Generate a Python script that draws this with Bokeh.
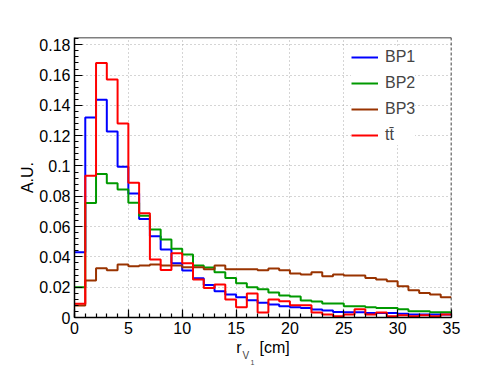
from bokeh.plotting import figure
from bokeh.models import FixedTicker, Legend, LegendItem, Span, Label
from bokeh.embed import file_html
from bokeh.resources import INLINE

# bin edges 0..35 cm, width 1
edges = list(range(0, 36))

bp1 = [0.043, 0.132, 0.1437, 0.1228, 0.0995, 0.0819, 0.065, 0.0536, 0.0448, 0.0358,
       0.031, 0.0259, 0.0215, 0.0174, 0.0152, 0.0134, 0.0114, 0.0097, 0.0086, 0.0075,
       0.0068, 0.0062, 0.0053, 0.0046, 0.0037, 0.0035, 0.0035, 0.0029, 0.0029, 0.0029,
       0.0024, 0.002, 0.002, 0.002, 0.002]
bp2 = [0.020, 0.0756, 0.0947, 0.0886, 0.0844, 0.0758, 0.0672, 0.058, 0.0514, 0.0453,
       0.0415, 0.0343, 0.033, 0.0299, 0.026, 0.0226, 0.020, 0.0187, 0.0165, 0.0145,
       0.0138, 0.0112, 0.0105, 0.0092, 0.0092, 0.0075, 0.0075, 0.0068, 0.0062, 0.0062,
       0.0055, 0.0042, 0.0042, 0.0035, 0.0035]
bp3 = [0.008, 0.0244, 0.0325, 0.0312, 0.035, 0.0338, 0.0343, 0.035, 0.0343, 0.0343,
       0.0332, 0.0332, 0.0318, 0.0343, 0.0318, 0.0318, 0.0318, 0.0312, 0.0323, 0.0312,
       0.029, 0.0284, 0.0299, 0.0272, 0.0284, 0.0277, 0.0277, 0.026, 0.0251, 0.024,
       0.0207, 0.018, 0.0161, 0.0152, 0.0134]
ttbar = [0.009, 0.0936, 0.168, 0.157, 0.128, 0.089, 0.0688, 0.0382, 0.0314, 0.0424,
         0.0358, 0.025, 0.0194, 0.0218, 0.0119, 0.0068, 0.0158, 0.0033, 0.0119, 0.0108,
         0.0081, 0.0081, 0.0033, 0.002, 0.0009, 0.002, 0.0055, 0.002, 0.0033, 0.0009,
         0.0015, 0.0009, 0.0015, 0.0009, 0.002]

series_names = ["BP1", "BP2", "BP3", "t\u0074\u0304"]
series_vals = [bp1, bp2, bp3, ttbar]
series_colors = ["#0000ff", "#009900", "#993300", "#ff0000"]

x_ticks = [0, 5, 10, 15, 20, 25, 30, 35]
y_ticks = [0, 0.02, 0.04, 0.06, 0.08, 0.1, 0.12, 0.14, 0.16, 0.18]
y_tick_labels = ["0", "0.02", "0.04", "0.06", "0.08", "0.1", "0.12", "0.14", "0.16", "0.18"]
y_max = 0.1848

FONT = "Liberation Sans"

p = figure(width=496, height=372, x_range=(0, 35), y_range=(0, y_max),
           output_backend="svg", toolbar_location=None,
           min_border_left=74, min_border_right=45, min_border_top=37, min_border_bottom=55)
p.outline_line_color = None
p.background_fill_color = "white"
p.border_fill_color = "white"

p.xaxis.ticker = FixedTicker(ticks=x_ticks, minor_ticks=list(range(0, 36)))
p.yaxis.ticker = FixedTicker(ticks=y_ticks, minor_ticks=[i * 0.004 for i in range(47)])
p.yaxis.major_label_overrides = {t: l for t, l in zip(y_ticks, y_tick_labels)}

for ax in (p.xaxis, p.yaxis):
    ax.major_tick_in = 8
    ax.major_tick_out = 0
    ax.minor_tick_in = 4
    ax.minor_tick_out = 0
    ax.axis_line_color = "black"
    ax.axis_line_width = 1.5
    ax.major_tick_line_width = 1.2
    ax.minor_tick_line_width = 1.2
    ax.major_label_text_font = FONT
    ax.major_label_text_font_size = "16px"
    ax.major_label_text_color = "black"
    ax.major_label_standoff = 4
    ax.axis_label_text_font = FONT
    ax.axis_label_text_font_style = "normal"
    ax.axis_label_text_font_size = "16px"
    ax.axis_label_text_color = "black"

p.yaxis.axis_label = "A.U."
p.yaxis.axis_label_standoff = 0
# x-axis title r_{V_1} [cm]: main part on the axis, subscripts as labels below
p.xaxis.axis_label = "r\u00a0\u00a0\u00a0\u00a0[cm]"
p.xaxis.axis_label_standoff = 2

for g in (p.xgrid, p.ygrid):
    g.grid_line_color = "#aaaaaa"
    g.grid_line_dash = "1 3"
    g.grid_line_width = 1
p.xgrid.ticker = FixedTicker(ticks=x_ticks)
p.ygrid.ticker = FixedTicker(ticks=y_ticks)

renderers = []
for name, vals, col in zip(series_names, series_vals, series_colors):
    r = p.step(x=edges, y=vals + [vals[-1]], mode="after", line_color=col, line_width=2)
    renderers.append(r)

legend = Legend(items=[LegendItem(label=n, renderers=[r]) for n, r in zip(series_names, renderers)],
                location=(277, 172), border_line_color=None, background_fill_color="white",
                background_fill_alpha=1.0, padding=10, spacing=6, glyph_width=27, glyph_height=20,
                label_height=20, label_standoff=7, label_text_font=FONT, label_text_font_size="16px",
                margin=0)
p.add_layout(legend)

p.add_layout(Span(location=35, dimension="height", line_color="black", line_dash="3 2", line_width=1.5))
p.add_layout(Span(location=y_max, dimension="width", line_color="black", line_width=1.5))

sub_parts = [("V", -209, -38, "10px"), ("1", -208, -45, "7px")]
for txt, xx, yy, fs in sub_parts:
    p.add_layout(Label(x=xx, y=yy, x_units="screen", y_units="screen", text=txt,
                       text_font=FONT, text_font_size=fs, text_baseline="alphabetic"), "right")

open("out.html", "w").write(file_html(p, INLINE))
